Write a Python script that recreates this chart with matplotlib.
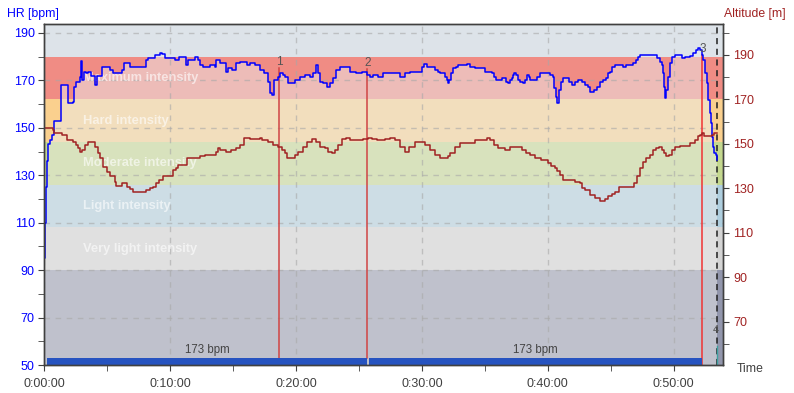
import numpy as np
import matplotlib
matplotlib.use("Agg")
import matplotlib.pyplot as plt
from matplotlib.ticker import MultipleLocator, FuncFormatter

plt.rcParams["font.family"] = ["Liberation Sans", "DejaVu Sans"]

# =========================
# DATA (time in minutes)
# =========================
hr_time = [0.00, 0.08, 0.16, 0.24, 0.32, 0.44, 0.62, 0.76, 1.27, 1.29, 1.76, 1.87,
           2.29, 2.35, 2.50, 2.82, 2.93, 3.00, 3.16, 3.30, 3.46, 3.70, 4.01, 4.17,
           4.55, 5.21, 5.45, 6.00, 6.16, 6.32, 6.80, 7.99, 8.07, 8.23, 8.78, 9.18,
           9.34, 9.58, 10.37, 10.69, 11.17, 11.25, 11.41, 11.96, 12.20, 12.36, 12.60,
           13.16, 13.55, 13.63, 13.95, 14.27, 14.43, 14.59, 14.90, 15.22, 15.54, 15.94,
           16.10, 16.34, 16.73, 17.13, 17.45, 17.77, 17.93, 18.08, 18.24, 18.56, 18.72,
           18.96, 19.12, 19.36, 19.67, 19.91, 20.31, 20.71, 21.11, 21.34, 21.58, 21.74,
           21.90, 22.14, 22.46, 22.70, 22.93, 23.17, 23.49, 23.89, 24.28, 24.76, 25.24,
           25.56, 25.64, 25.87, 26.11, 26.51, 26.91, 28.10, 28.26, 28.66, 29.05, 29.85,
           30.01, 30.17, 30.40, 30.80, 31.04, 31.28, 31.44, 31.84, 31.99, 32.11, 32.15,
           32.31, 32.47, 32.71, 32.87, 33.43, 33.58, 33.82, 34.22, 34.94, 35.02, 35.41,
           35.57, 35.73, 35.89, 36.21, 36.37, 36.60, 36.68, 36.84, 37.00, 37.16, 37.24,
           37.32, 37.48, 37.64, 37.80, 38.04, 38.20, 38.35, 38.51, 38.59, 38.99, 39.15,
           39.39, 40.02, 40.18, 40.42, 40.50, 40.66, 40.74, 40.90, 41.06, 41.22, 41.53,
           41.69, 41.93, 42.17, 42.41, 42.73, 42.97, 43.20, 43.36, 43.68, 43.92, 44.16,
           44.40, 44.63, 44.79, 44.95, 45.11, 45.35, 45.75, 45.99, 46.22, 46.78, 47.02,
           47.18, 47.34, 48.53, 48.69, 48.93, 49.09, 49.17, 49.25, 49.32, 49.40, 49.56,
           49.72, 49.88, 50.12, 50.52, 50.68, 50.91, 51.31, 51.55, 51.79, 51.95, 52.11,
           52.27, 52.35, 52.50, 52.66, 52.74, 52.90, 52.98, 53.06, 53.14, 53.22, 53.38,
           53.46]
hr_bpm = [95, 110, 125, 136, 143, 145, 147, 153, 153, 168, 168, 160.5,
          161, 167.4, 169.5, 171.6, 178, 170.2, 173.7, 173, 173.7, 172, 168, 172,
          175.8, 174.4, 173, 173, 174.4, 177.2, 175.8, 175.8, 178.6, 179.3, 180.7, 181.4,
          181, 179.3, 178.6, 180, 180, 176.5, 178.6, 180, 178.6, 176.5, 175.8,
          176.5, 175.8, 178.6, 177.2, 177.2, 173.7, 175.1, 174.4, 177.2, 177.9, 177.9,
          176.5, 177.2, 176.5, 174.4, 173, 169.5, 164.6, 163.9, 170.2, 171.6, 173,
          172.3, 171.6, 168.8, 168.8, 170.2, 171.6, 172.3, 171.6, 173, 176.5, 173,
          169.5, 168.8, 167.4, 168.8, 170.9, 174.4, 175.8, 175.8, 173.7, 173, 173.7,
          173.7, 172.3, 171.6, 172.3, 171.6, 173, 173, 171.6, 173, 173.7, 173.7,
          175.8, 176.9, 175.8, 175.8, 174.4, 173.7, 173, 171.6, 170, 168.8, 170.2,
          173, 175.1, 175.8, 176.5, 176.5, 176.9, 175.8, 175.1, 175.1, 173.7, 173.7,
          173, 171.6, 170.2, 170.2, 170.9, 170.9, 169.5, 168.8, 170.2, 170.9, 172.3,
          173, 172.3, 170.2, 169.5, 168.8, 170.2, 172.3, 171.6, 170.2, 170.2, 171.6,
          173, 173, 172.3, 171.6, 166.7, 163.1, 160.4, 166, 169.5, 170.9, 170.9,
          169.5, 168, 169.5, 170.2, 169.5, 168, 167.4, 165.3, 166, 167.4, 169.5,
          170.2, 170.9, 173, 173.7, 175.8, 176.5, 176.5, 175.8, 176.5, 177.2, 178.6,
          180, 180.7, 180.7, 179.3, 177.9, 176.5, 173, 167.4, 162.5, 166, 171.6,
          177.2, 180, 180.7, 180.7, 179.3, 180, 180.3, 181.4, 182.8, 183.5, 182.8,
          180.7, 178.6, 173, 168.8, 161.7, 156.1, 151.9, 146.3, 142, 139.3, 138.6,
          136.4]

alt_time = [0.04, 0.70, 0.76, 1.37, 1.43, 1.76, 2.29, 2.50, 2.66, 2.82, 3.00, 3.22,
            3.46, 3.78, 4.01, 4.25, 4.41, 4.65, 4.97, 5.21, 5.60, 5.68, 6.00, 6.16,
            6.40, 6.56, 6.80, 7.03, 7.91, 8.07, 8.39, 8.62, 8.86, 9.10, 9.42, 9.98,
            10.21, 10.45, 10.61, 11.33, 12.36, 12.76, 13.16, 13.63, 13.79, 13.95, 14.43,
            14.82, 15.22, 15.54, 15.86, 16.02, 16.34, 16.89, 17.13, 17.29, 17.77, 18.16,
            18.56, 18.88, 19.12, 19.28, 19.67, 19.91, 20.15, 20.55, 20.86, 21.26, 21.58,
            21.90, 22.30, 22.54, 22.85, 23.09, 23.33, 23.65, 23.97, 24.28, 24.68, 25.32,
            25.72, 26.03, 26.43, 27.07, 27.46, 27.86, 28.26, 28.66, 28.98, 29.45, 30.01,
            30.25, 30.64, 31.04, 31.44, 31.84, 32.07, 32.23, 32.63, 33.03, 33.66, 34.22,
            35.02, 35.17, 35.41, 35.73, 36.05, 36.60, 37.00, 37.80, 37.96, 38.27, 38.59,
            38.99, 39.47, 40.02, 40.26, 40.58, 40.74, 40.98, 41.22, 42.17, 42.57, 42.73,
            42.97, 43.36, 43.76, 44.16, 44.56, 44.79, 45.11, 45.35, 45.67, 46.70, 46.86,
            47.10, 47.34, 47.58, 47.82, 48.13, 48.37, 48.61, 48.85, 49.09, 49.25, 49.40,
            49.64, 49.88, 50.12, 50.52, 50.91, 51.31, 51.71, 51.95, 52.11, 52.27, 52.43,
            52.90, 53.06, 53.22, 53.46]
alt_m = [157, 156.3, 155, 155, 154, 151.8, 151, 149.5, 148, 146.5, 147.3, 149.5,
         151, 151, 148.7, 145.8, 143.5, 139.7, 137.5, 135.3, 133, 131, 131, 132.3,
         132.3, 130.7, 129.6, 128.5, 128.5, 129.3, 130, 130.7, 132.3, 133.8, 135.3, 135.3,
         138.3, 139, 140.5, 143.5, 144.3, 145, 145, 146.5, 148, 147.3, 146.5,
         147.3, 148, 149.5, 152.5, 152.8, 152.3, 152.3, 152.8, 151.8, 151, 149.5,
         148.7, 147.3, 145.8, 143.5, 143.5, 145, 146.5, 148.7, 151, 152.2, 151,
         148.7, 148, 146.5, 145.8, 147.3, 149.5, 152, 152.8, 151.8, 151.8, 152,
         152.8, 152, 151.8, 152, 152.8, 151.8, 148.7, 146.5, 148.7, 151, 151,
         149.5, 147.3, 145, 143.5, 143.5, 144.3, 145.8, 148.7, 150.3, 150.5, 151.8,
         151.8, 152.8, 151.8, 149.5, 148, 147.3, 148.7, 148.7, 147.3, 145.8, 145,
         143.5, 142.5, 141.3, 140, 139, 137.9, 136, 133.8, 133, 132.3, 130,
         129, 127, 125.5, 124.4, 125, 126.3, 127.5, 128.5, 130.5, 130.5, 132.3,
         135.3, 139, 141.6, 143.5, 145, 147.3, 148, 148.7, 147.3, 145.8, 144.3,
         145, 147.3, 148.5, 149, 149, 150.3, 151.8, 153.3, 154, 154.8, 153.3,
         153.3, 154, 154.8, 154.8]

# HR zones (max HR 180)
zone_lo = [180, 162, 144, 126, 108, 90, 50]
zone_hi = [194, 180, 162, 144, 126, 108, 90]
zone_colors = ["#dde3e9", "#f08c84", "#fad08e", "#c4d88e", "#aecede", "#d4d4d4", "#9296ac"]
zone_names = ["", "Maximum intensity", "Hard intensity", "Moderate intensity",
              "Light intensity", "Very light intensity", ""]

# lap markers
marker_times = [18.66, 25.66, 52.29]
marker_labels = ["1", "2", "3"]
marker_tops = [175.3, 174.8, 180.7]
marker_bottoms = [53, 53, 50]
marker_colors = ["#d04444", "#d04444", "#f03333"]

# lap bars
lap_start = [0.20, 25.78]
lap_end = [25.62, 52.27]
lap_hr = [173, 173]

end_time = 53.46

hr_ticks = [50, 70, 90, 110, 130, 150, 170, 190]
hr_minor = [60, 80, 100, 120, 140, 160, 180]
alt_ticks = [70, 90, 110, 130, 150, 170, 190]
alt_minor = [60, 80, 100, 120, 140, 160, 180, 200]


def fmt_time(m, pos):
    s = int(round(m * 60))
    return f"{s // 3600}:{s % 3600 // 60:02d}:{s % 60:02d}"


# =========================
# FIGURE
# =========================
fig = plt.figure(figsize=(7.94, 3.93), dpi=100)
ax = fig.add_axes([0.056, 0.0712, 0.855, 0.868])
ax2 = ax.twinx()

ax.set_xlim(0, 53.96)
ax.set_ylim(50, 193.8)
ax2.set_ylim(50.5, 203.9)

for lo, hi, c, name in zip(zone_lo, zone_hi, zone_colors, zone_names):
    ax.axhspan(lo, hi, color=c, lw=0, zorder=0.1)
    if name:
        ax.text(3.06, (lo + hi) / 2, name, color="white", alpha=0.6,
                fontsize=9.3, fontweight="bold", va="center", ha="left", zorder=0.6)

# lighten area under the HR curve
ax.fill_between(hr_time, 50, hr_bpm, step="post", color="#ececec", alpha=0.5,
                lw=0, zorder=0.2)

ax.set_axisbelow(True)
ax.grid(which="major", color="#a8a8a8", alpha=0.6, linestyle=(0, (4, 4)), lw=1)

ax.axvline(end_time, color="#202020", linestyle=(0, (4, 3)), lw=1.1, zorder=1.5)

for t, lab, top, bot, c in zip(marker_times, marker_labels, marker_tops,
                               marker_bottoms, marker_colors):
    ax.plot([t, t], [bot, top], color=c, lw=1.1, zorder=1.6)
    ax.text(t, top + 2.6, lab, color="#555555", fontsize=8.5, ha="center",
            va="center", zorder=3)
ax.text(53.38, 64.7, "4", color="#555555", fontsize=8, ha="center", va="center")
ax.plot([end_time, end_time], [50, 58], color="#40a0a0", lw=1, zorder=1.7)

for s, e, h in zip(lap_start, lap_end, lap_hr):
    ax.bar(s, 3, width=e - s, bottom=50, align="edge", color="#2653c0",
           lw=0, zorder=1.8)
    ax.text((s + e) / 2, 56.4, f"{h} bpm", color="#444444", fontsize=8.3,
            ha="center", va="center")

ax.plot(hr_time, hr_bpm, drawstyle="steps-post", color="#0000ff", lw=1.1, zorder=2)
ax2.plot(alt_time, alt_m, drawstyle="steps-post", color="#a02222", lw=1.1)

# axes styling
ax.xaxis.set_major_locator(MultipleLocator(10))
ax.xaxis.set_minor_locator(MultipleLocator(5))
ax.xaxis.set_major_formatter(FuncFormatter(fmt_time))
ax.set_yticks(hr_ticks)
ax.set_yticks(hr_minor, minor=True)
ax2.set_yticks(alt_ticks)
ax2.set_yticks(alt_minor, minor=True)

ax.tick_params(axis="x", which="both", length=4, color="#404040",
               labelcolor="#404040", labelsize=9, pad=5)
ax.tick_params(axis="y", which="both", length=4, color="#404040",
               labelcolor="#0000ff", labelsize=9, pad=3)
ax2.tick_params(axis="y", which="both", length=4, color="#404040",
                labelcolor="#a02222", labelsize=9, pad=3)

for a in (ax, ax2):
    for sp in a.spines.values():
        sp.set_color("#404040")
        sp.set_linewidth(1)

fig.text(0.009, 0.964, "HR [bpm]", color="#0000ff", fontsize=8.8, ha="left", va="center")
fig.text(0.989, 0.964, "Altitude [m]", color="#a02222", fontsize=8.8, ha="right", va="center")
fig.text(0.945, 0.061, "Time", color="#404040", fontsize=8.8, ha="center", va="center")

plt.savefig("out.png", dpi=100)
plt.close()
